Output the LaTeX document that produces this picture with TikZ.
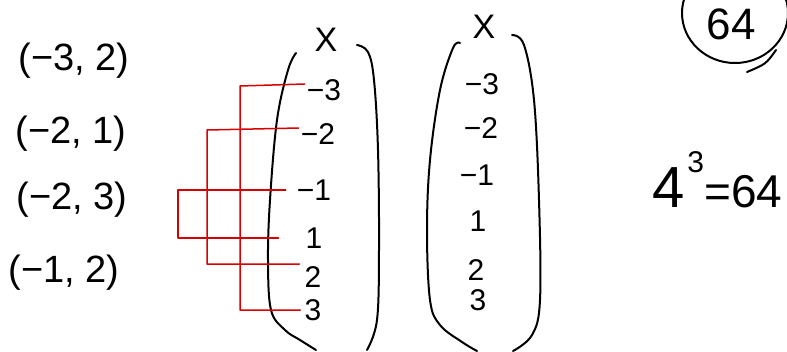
\documentclass[tikz,border=0pt]{standalone}
\usepackage{fontspec}
\setmainfont{Liberation Sans}
\begin{document}
\begin{tikzpicture}[x=1pt,y=-1pt,
  hand/.style={line width=2pt,line cap=round,line join=round,black},
  redline/.style={line width=1.5pt,line cap=round,line join=round,red!85!black},
  num/.style={inner sep=0pt,font=\fontsize{30}{32}\selectfont},
  pair/.style={inner sep=0pt,font=\fontsize{38}{40}\selectfont},
  setname/.style={inner sep=0pt,font=\fontsize{34}{36}\selectfont}]
\useasboundingbox (0,0) rectangle (787,351);
\fill[white] (0,0) rectangle (787,351);

% left pairs
\node[pair] (p1) at (74,61) {(−3, 2)};
\node[pair] (p2) at (71,134) {(−2, 1)};
\node[pair] (p3) at (72,200) {(−2, 3)};
\node[pair] (p4) at (64,273) {(−1, 2)};

% middle set
\node[setname] (X1) at (326,40) {X};
\node[num] (a1) at (324,90) {−3};
\node[num] (a2) at (318,134) {−2};
\node[num] (a3) at (314,190) {−1};
\node[num] (a4) at (314,238) {1};
\node[num] (a5) at (313,277) {2};
\node[num] (a6) at (313,310) {3};
\draw[hand] plot[smooth,tension=0.6] coordinates {(296,53) (288,70) (277,120) (270,200) (268,260) (271,310) (285,330) (300,340) (316,350)};
\draw[hand] plot[smooth,tension=0.6] coordinates {(357,45) (368,52) (374,80) (378,150) (379,250) (377,320) (367,350)};

% red brackets
\draw[redline] ([xshift=-2pt,yshift=6pt]a1.west) -- ([yshift=4pt]a1.west -| 240,0) |- ([xshift=-4pt]a6.west);
\draw[redline] ([xshift=-2pt,yshift=6pt]a2.west) -- ([yshift=4pt]a2.west -| 207,0) |- ([xshift=-5pt,yshift=13pt]a5.west);
\draw[redline] ([xshift=-11pt]a3.west) -- (a3.west -| 178,0) |- ([xshift=-27pt]a4.west);

% right set
\node[setname] (X2) at (484,27) {X};
\node[num] (b1) at (482,84) {−3};
\node[num] (b2) at (481,128) {−2};
\node[num] (b3) at (477,175) {−1};
\node[num] (b4) at (478,221) {1};
\node[num] (b5) at (476,270) {2};
\node[num] (b6) at (478,300) {3};
\draw[hand] plot[smooth,tension=0.6] coordinates {(460,43) (453,48) (440,90) (430,160) (427,230) (430,300) (440,325) (462,342) (477,351)};
\draw[hand] plot[smooth,tension=0.6] coordinates {(512,35) (524,45) (534,100) (539,200) (540,300) (532,335) (513,351)};

% circled 64
\node[inner sep=0pt,font=\fontsize{44}{46}\selectfont] (c64) at (731,24) {64};
\draw[hand] (735,13) ellipse [x radius=53, y radius=50];
\draw[hand] (776,50) .. controls (766,64) .. (747,72);

% 4^3 = 64
\node[inner sep=0pt,anchor=base west] (eq) at (652,207) {\fontsize{58}{60}\selectfont 4\hspace{3pt}\raisebox{0.6em}{\fontsize{30}{32}\selectfont 3}\fontsize{46}{48}\selectfont =64};
\end{tikzpicture}
\end{document}
